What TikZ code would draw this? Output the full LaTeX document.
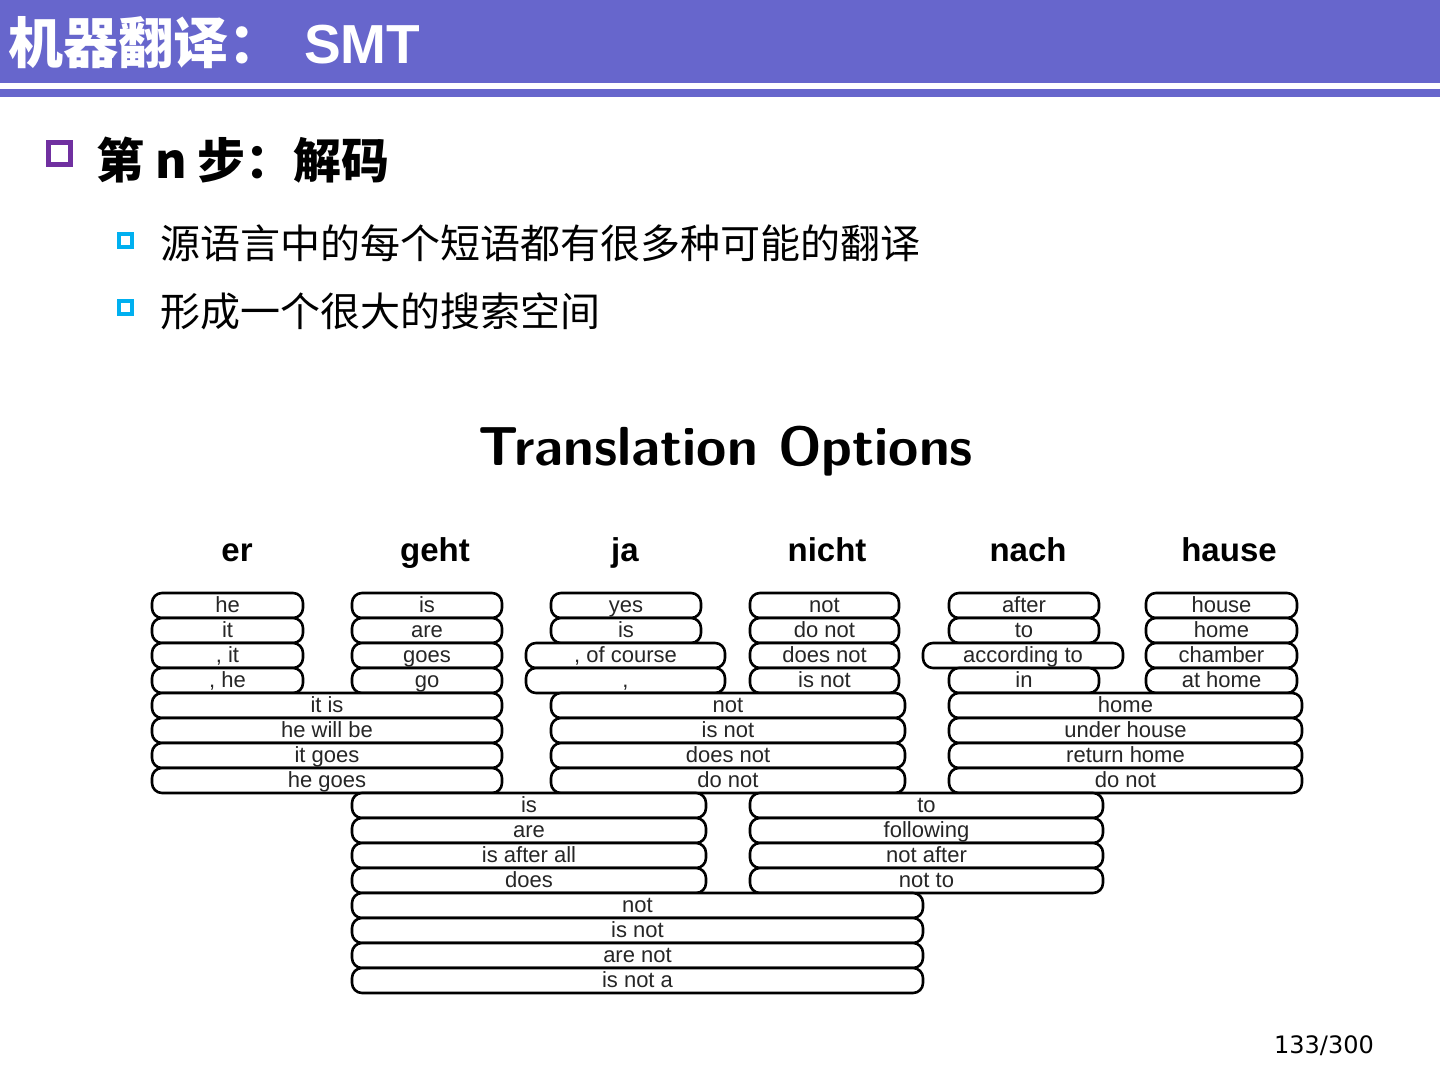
\documentclass[tikz,border=0pt]{standalone}
\usepackage{fontspec}
\newfontfamily\cjk{Noto Sans CJK SC}
\newfontfamily\arial{Liberation Sans}
\newfontfamily\pagefont{DejaVu Sans}
\usetikzlibrary{positioning}
\definecolor{barblue}{RGB}{103,102,204}
\definecolor{bulletpurple}{RGB}{112,48,160}
\definecolor{bulletcyan}{RGB}{0,176,240}
\tikzset{
  opt/.style={rectangle, rounded corners=5pt, draw=black, line width=1.3pt, fill=white, minimum height=12.5pt, inner sep=0pt, text height=8.5pt, text depth=2pt, font=\arial\fontsize{11}{11}\selectfont, text=black!85},
  srcword/.style={anchor=base, font=\arial\bfseries\fontsize{16.5}{16.5}\selectfont},
  bulletone/.style={rectangle, draw=bulletpurple, line width=2.5pt, fill=white, minimum size=11pt, inner sep=0pt},
  bullettwo/.style={rectangle, draw=bulletcyan, line width=2pt, fill=white, minimum size=6.5pt, inner sep=0pt},
  itemone/.style={anchor=west, inner sep=0pt, font=\cjk\bfseries\fontsize{24}{24}\selectfont},
  itemtwo/.style={anchor=west, inner sep=0pt, font=\cjk\fontsize{20}{20}\selectfont}
}
% one stack of options: name, left x, right x, first row, texts
\newcommand{\optstack}[5]{%
  \foreach \t [count=\k from #4] in {#5}
    \node[opt, minimum width={(#3-#2)*0.5pt}] (#1-\k) at ({(#2+#3)/2},{605.5+25*(\k-1)}) {\t};}

\begin{document}
\begin{tikzpicture}[x=0.5pt, y=-0.5pt]
\useasboundingbox (0,0) rectangle (1440,1080);

% title bar
\fill[barblue] (0,0) rectangle (1440,83);
\fill[barblue] (0,89) rectangle (1440,97);
\node[anchor=west, inner sep=0pt, text=white, font=\bfseries\fontsize{27.5}{27.5}\selectfont] (title) at (8,43) {{\cjk 机器翻译：} {\arial SMT}};

% bullets
\node[bulletone] (b1) at (59.5,154) {};
\node[itemone] (t1) at (96,160) {第 n 步：解码};
\node[bullettwo] (b2) at (125.5,240.5) {};
\node[itemtwo] (t2) at (160,243) {源语言中的每个短语都有很多种可能的翻译};
\node[bullettwo] (b3) at (125.5,307.5) {};
\node[itemtwo] (t3) at (160,311) {形成一个很大的搜索空间};

\node[font=\sffamily\bfseries\fontsize{27.5}{27.5}\selectfont] (heading) at (726,451) {Translation Options};

% source words
\foreach \w/\x in {er/237, geht/435, ja/625, nicht/827, nach/1028, hause/1229}
  \node[srcword] (src-\w) at (\x,561) {\w};

% single words
\optstack{er}{152}{303}{1}{he, it, {, it}, {, he}}
\optstack{geht}{352}{502}{1}{is, are, goes, go}
\optstack{ja}{551}{701}{1}{yes, is}
\optstack{ja}{526}{725}{3}{{, of course}, {,}}
\optstack{nicht}{750}{899}{1}{not, do not, does not, is not}
\optstack{nach}{949}{1099}{1}{after, to}
\optstack{nach}{923}{1123}{3}{according to}
\optstack{nach}{949}{1099}{4}{in}
\optstack{hause}{1146}{1297}{1}{house, home, chamber, at home}

% two words
\optstack{ergeht}{152}{502}{5}{it is, he will be, it goes, he goes}
\optstack{janicht}{551}{905}{5}{not, is not, does not, do not}
\optstack{nachhause}{949}{1302}{5}{home, under house, return home, do not}
\optstack{gehtja}{352}{706}{9}{is, are, is after all, does}
\optstack{nichtnach}{750}{1103}{9}{to, following, not after, not to}

% three words
\optstack{gehtnicht}{352}{923}{13}{not, is not, are not, is not a}

\node[font=\pagefont\fontsize{12}{12}\selectfont] (page) at (1324,1046) {133/300};
\end{tikzpicture}
\end{document}
